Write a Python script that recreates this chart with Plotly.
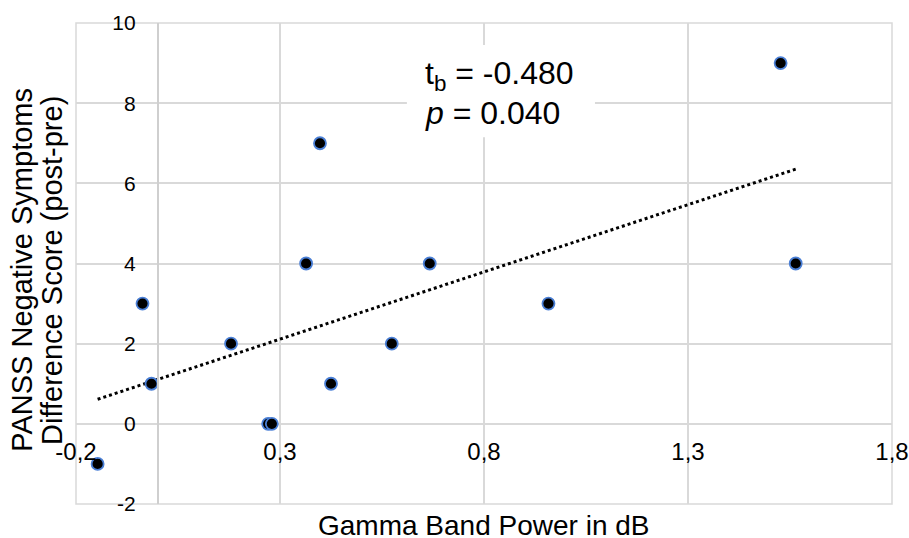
import numpy as np
import plotly.graph_objects as go

# Data
gamma_power = [-0.147, -0.037, -0.015, 0.180, 0.271, 0.280, 0.364, 0.398,
               0.425, 0.574, 0.667, 0.958, 1.527, 1.564]
panss_diff = [-1, 3, 1, 2, 0, 0, 4, 7, 1, 2, 4, 3, 9, 4]

x_tick_vals = [-0.2, 0.3, 0.8, 1.3, 1.8]
x_tick_text = ["-0,2", "0,3", "0,8", "1,3", "1,8"]
y_tick_vals = [-2, 0, 2, 4, 6, 8, 10]
y_tick_text = ["-2", "0", "2", "4", "6", "8", "10"]

stat_line1 = "t<sub>b</sub> = -0.480"
stat_line2 = "<i>p</i> = 0.040"
x_title = "Gamma Band Power in dB"
y_title_line1 = "PANSS Negative Symptoms"
y_title_line2 = "Difference Score (post-pre)"

# Linear trend line (least squares fit of the data)
slope, intercept = np.polyfit(gamma_power, panss_diff, 1)
trend_x = [min(gamma_power), max(gamma_power)]
trend_y = [slope * v + intercept for v in trend_x]

FONT = "Arial, 'Liberation Sans', sans-serif"
GRID = "#d9d9d9"

fig = go.Figure()
fig.add_trace(go.Scatter(
    x=trend_x, y=trend_y, mode="lines",
    line=dict(color="black", width=3, dash="dot"),
    hoverinfo="skip", showlegend=False))
fig.add_trace(go.Scatter(
    x=gamma_power, y=panss_diff, mode="markers",
    marker=dict(color="black", size=12, line=dict(color="#4a7fd6", width=1.8)),
    showlegend=False))

fig.update_layout(
    width=909, height=538,
    margin=dict(l=76, r=17, t=23, b=34, autoexpand=False),
    paper_bgcolor="white", plot_bgcolor="white",
    font=dict(family=FONT, color="black"),
    xaxis=dict(
        range=[-0.2, 1.8], tickvals=x_tick_vals, ticktext=x_tick_text,
        showgrid=True, gridcolor=GRID, gridwidth=1.5, zeroline=False,
        showline=False, anchor="free", position=2 / 12, automargin=False,
        ticks="outside", ticklen=6, tickcolor="rgba(0,0,0,0)",
        tickfont=dict(size=24, family=FONT, color="black"),
    ),
    yaxis=dict(
        range=[-2, 10], tickvals=y_tick_vals, ticktext=y_tick_text,
        showgrid=True, gridcolor=GRID, gridwidth=1.5, zeroline=False,
        showline=True, linecolor="#cfcfcf", linewidth=1.5,
        anchor="free", position=0.1, automargin=False,
        ticks="outside", ticklen=17, tickcolor="rgba(0,0,0,0)",
        tickfont=dict(size=21, family=FONT, color="black"),
    ),
    shapes=[
        dict(type="rect", xref="paper", yref="paper", x0=0, x1=1, y0=0, y1=1,
             line=dict(color=GRID, width=1.5), layer="below"),
        dict(type="rect", xref="x", yref="y", x0=0.611, x1=1.072, y0=7.15, y1=9.45,
             line=dict(width=0), fillcolor="white", layer="above"),
    ],
    annotations=[
        dict(text=stat_line1, x=0.650, y=8.7, xref="x", yref="y",
             xanchor="left", yanchor="middle", showarrow=False,
             font=dict(size=32, family=FONT, color="black")),
        dict(text=stat_line2, x=0.650, y=7.75, xref="x", yref="y",
             xanchor="left", yanchor="middle", showarrow=False,
             font=dict(size=32, family=FONT, color="black")),
        dict(text=x_title, x=0.5, y=-0.0437, xref="paper", yref="paper",
             xanchor="center", yanchor="middle", showarrow=False,
             font=dict(size=28, family=FONT, color="black")),
        dict(text=y_title_line1, x=-0.0665, y=0.4865, xref="paper", yref="paper",
             xanchor="center", yanchor="middle", showarrow=False, textangle=-90,
             font=dict(size=29, family=FONT, color="black")),
        dict(text=y_title_line2, x=-0.0295, y=0.4865, xref="paper", yref="paper",
             xanchor="center", yanchor="middle", showarrow=False, textangle=-90,
             font=dict(size=29, family=FONT, color="black")),
    ],
)

fig.write_html("out.html")
